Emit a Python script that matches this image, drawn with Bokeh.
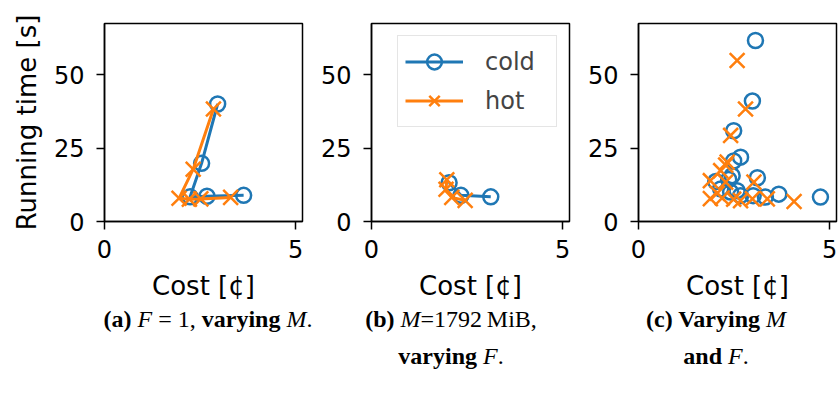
from bokeh.plotting import figure
from bokeh.models import Range1d, FixedTicker, Legend, LegendItem, Div
from bokeh.layouts import row, column
from bokeh.embed import file_html
from bokeh.resources import INLINE

BLUE = "#1f77b4"
ORANGE = "#ff7f0e"

# ---- data (cost in cents, running time in seconds) ----
a_cold_cost = [2.96, 2.54, 2.24, 2.68, 3.64]
a_cold_time = [40.0, 19.8, 8.4, 8.6, 8.9]
a_hot_cost = [2.85, 2.32, 1.95, 2.22, 2.52, 3.30]
a_hot_time = [38.3, 17.8, 7.9, 7.6, 7.7, 8.2]

b_cold_cost = [2.03, 2.34, 3.12]
b_cold_time = [13.2, 8.9, 8.4]
b_hot_cost = [1.97, 1.95, 2.10, 2.45]
b_hot_time = [14.2, 11.0, 8.2, 7.2]

c_cold_cost = [3.06, 2.98, 2.49, 2.67, 2.49, 2.45, 3.11, 2.02, 2.36, 2.15, 2.58, 2.41, 2.67, 3.00, 3.32, 3.67, 4.76]
c_cold_time = [61.6, 41.0, 30.9, 21.9, 20.6, 15.6, 14.9, 13.6, 14.3, 11.1, 10.5, 10.0, 8.8, 8.8, 8.3, 9.3, 8.3]
c_hot_cost = [2.58, 2.80, 2.41, 2.32, 2.28, 2.15, 1.88, 2.28, 3.02, 2.06, 1.88, 2.19, 2.49, 2.67, 2.98, 3.37, 4.07]
c_hot_time = [54.8, 38.3, 29.3, 20.2, 19.2, 17.3, 13.9, 13.4, 13.4, 9.6, 7.8, 8.0, 7.6, 7.1, 7.7, 7.7, 6.8]

x_ticks = [0, 5]
y_ticks = [0, 25, 50]
x_label = "Cost [¢]"
y_label = "Running time [s]"
series_labels = ["cold", "hot"]

FONT = "DejaVu Sans"


def make_fig(width, left, right, ylabel):
    p = figure(width=width, height=305, output_backend="svg", toolbar_location=None,
               x_range=Range1d(0, 5.18), y_range=Range1d(0, 67.4),
               min_border_left=left, min_border_right=right,
               min_border_top=23, min_border_bottom=84)
    p.grid.visible = False
    p.outline_line_color = "black"
    p.outline_line_width = 1.5
    p.outline_line_alpha = 1.0
    for ax in (p.xaxis[0], p.yaxis[0]):
        ax.major_tick_out = 8
        ax.major_tick_in = 0
        ax.minor_tick_line_color = None
        ax.major_tick_line_color = "black"
        ax.major_tick_line_width = 1.5
        ax.axis_line_color = "black"
        ax.axis_line_width = 1.5
        ax.major_label_text_font = FONT
        ax.major_label_text_font_size = "24px"
        ax.major_label_text_color = "black"
        ax.axis_label_text_font = FONT
        ax.axis_label_text_font_size = "26px"
        ax.axis_label_text_font_style = "normal"
        ax.axis_label_text_color = "black"
    p.xaxis.ticker = FixedTicker(ticks=x_ticks)
    p.yaxis.ticker = FixedTicker(ticks=y_ticks)
    p.xaxis.axis_label = x_label
    p.xaxis.major_label_standoff = 10
    p.xaxis.axis_label_standoff = 10
    p.yaxis.major_label_standoff = 12
    p.yaxis.axis_label_standoff = 9
    if ylabel:
        p.yaxis.axis_label = y_label
    return p


def add_series(p, cx, cy, hx, hy, lines):
    if lines:
        lc = p.line(cx, cy, line_color=BLUE, line_width=3)
    sc = p.scatter(cx, cy, marker="circle", size=15, fill_color=None,
                   line_color=BLUE, line_width=2.5)
    if lines:
        lh = p.line(hx, hy, line_color=ORANGE, line_width=3)
    sh = p.scatter(hx, hy, marker="x", size=21, line_color=ORANGE, line_width=2.5)
    if lines:
        return [lc, sc], [lh, sh]
    return [sc], [sh]


fa = make_fig(310, 104, 8, True)
add_series(fa, a_cold_cost, a_cold_time, a_hot_cost, a_hot_time, True)

fb = make_fig(267, 61, 8, False)
rc, rh = add_series(fb, b_cold_cost, b_cold_time, b_hot_cost, b_hot_time, True)
legend = Legend(items=[LegendItem(label=series_labels[0], renderers=rc),
                       LegendItem(label=series_labels[1], renderers=rh)],
                location="top_right", label_text_font=FONT, label_text_font_size="24px",
                glyph_width=58, glyph_height=37, label_height=37, label_width=64,
                spacing=2, padding=7, margin=12, label_standoff=22,
                border_line_color="#cccccc", border_line_width=1.5,
                background_fill_color="white", background_fill_alpha=0.8)
fb.add_layout(legend)

fc = make_fig(261, 61, 2, False)
add_series(fc, c_cold_cost, c_cold_time, c_hot_cost, c_hot_time, False)

cap_style = ("position:absolute;transform:translateX(-50%);white-space:nowrap;"
             "text-align:center;line-height:37px;top:-9px;")
caption_html = (
    '<div style="position:relative;width:838px;height:91px;'
    "font-family:'Liberation Serif',serif;font-size:24px;color:black;\">"
    f'<div style="{cap_style}left:203px;"><b>(a)</b> <i>F</i> = 1, <b>varying</b> <i>M</i>.</div>'
    f'<div style="{cap_style}left:446px;"><b>(b)</b> <i>M</i>=1792&thinsp;MiB,<br><b>varying</b> <i>F</i>.</div>'
    f'<div style="{cap_style}left:711px;"><b>(c) Varying</b> <i>M</i><br><b>and</b> <i>F</i>.</div>'
    "</div>"
)
cap = Div(text=caption_html, width=838, height=91)

layout = column(row(fa, fb, fc), cap)

open("out.html", "w").write(file_html(layout, INLINE))
